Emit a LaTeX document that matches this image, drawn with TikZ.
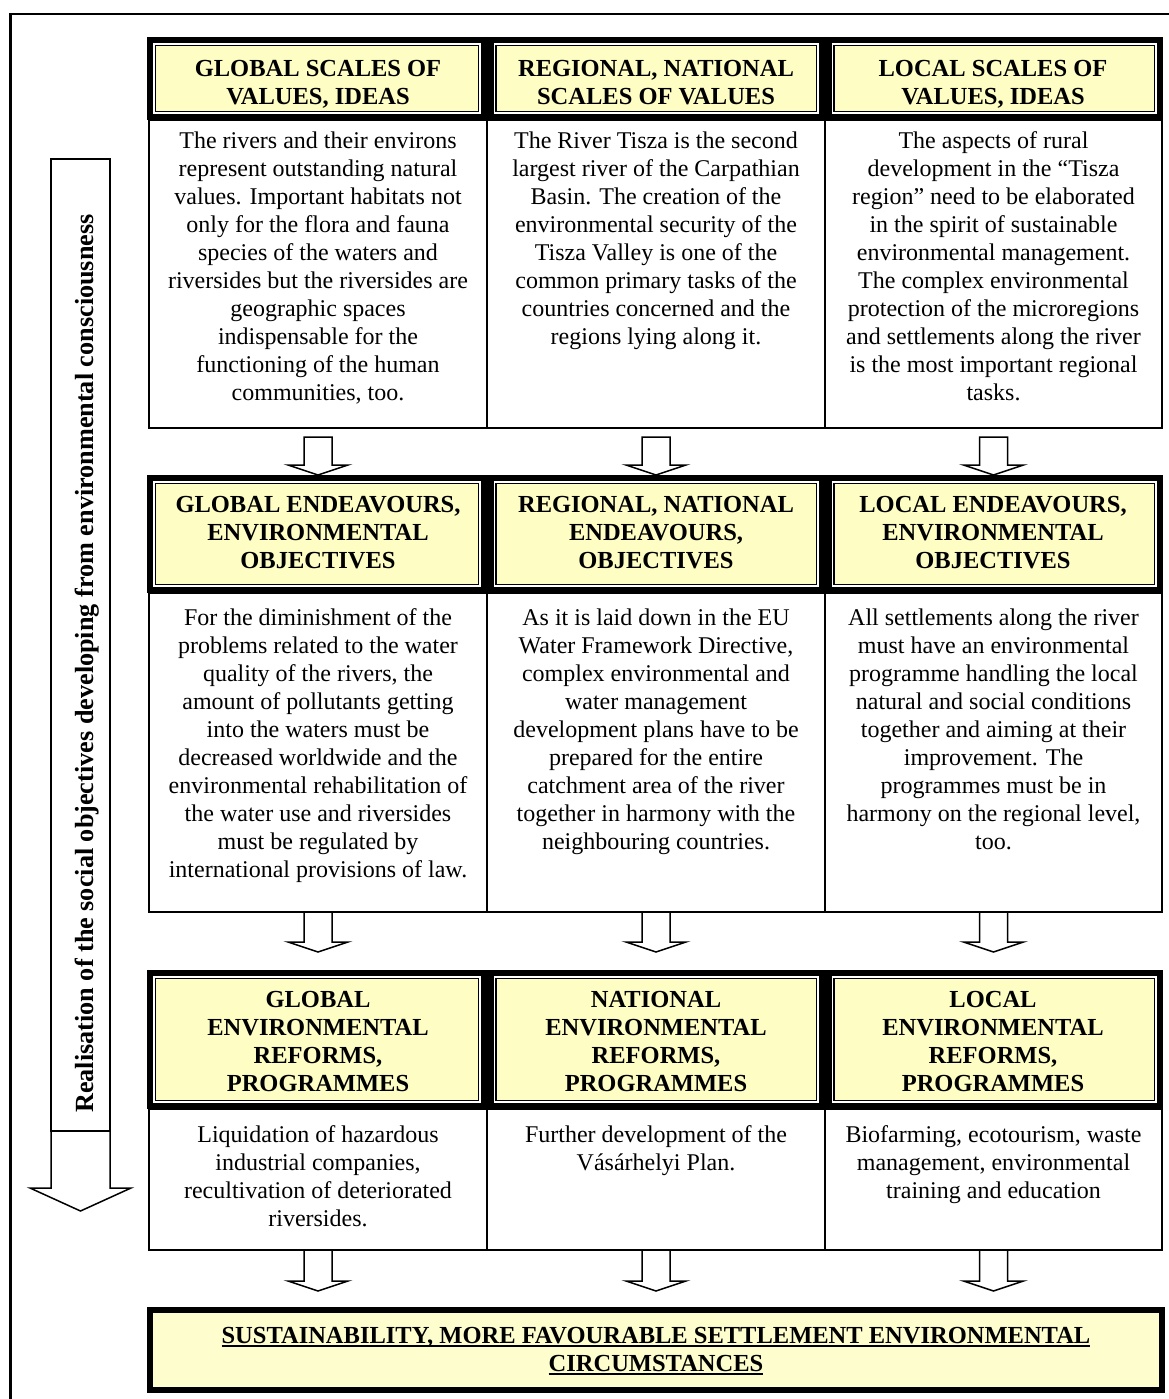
\documentclass[tikz,border=0pt]{standalone}
\usepackage{fontspec}
\setmainfont{Liberation Serif}
\usetikzlibrary{calc}
\definecolor{hdrfill}{RGB}{253,253,196}
\definecolor{botfill}{RGB}{253,253,205}
\newcommand\tst{\rule{0pt}{20pt}}
\newcommand\bst{\rule[-8pt]{0pt}{8pt}}
\newsavebox\ulbox
\newcommand\myul[1]{\sbox\ulbox{#1}\rlap{\rule[-4pt]{\wd\ulbox}{1.8pt}}\usebox\ulbox}
\newcommand\barrow[4]{\path[arrowline] let \p1=(#1.south), \p2=(#2.north) in
  (\x1-14pt,\y1-#3) -- (\x1-14pt,\y2+#4+10pt) -- (\x1-30pt,\y2+#4+10pt) -- (\x1,\y2+#4)
  -- (\x1+30pt,\y2+#4+10pt) -- (\x1+14pt,\y2+#4+10pt) -- (\x1+14pt,\y1-#3) -- cycle;}
\begin{document}
\begin{tikzpicture}[x=1pt,y=-1pt,
  box/.style={draw=black, line width=1.5pt, fill=white, inner sep=0pt, outer sep=0pt},
  hdr/.style={draw=black, line width=6pt, fill=hdrfill, inner sep=0pt, outer sep=0pt,
    path picture={
      \draw[white, line width=1.6pt] ([shift={(3.8pt,-3.8pt)}]path picture bounding box.north west) rectangle ([shift={(-3.8pt,3.8pt)}]path picture bounding box.south east);
      \draw[black, line width=1.2pt] ([shift={(5.4pt,-5.4pt)}]path picture bounding box.north west) rectangle ([shift={(-5.4pt,5.4pt)}]path picture bounding box.south east);
    }},
  botbox/.style={draw=black, line width=6pt, fill=botfill, inner sep=0pt, outer sep=0pt},
  hdrtext/.style={font=\bfseries\fontsize{24.5}{28}\selectfont, align=center, inner sep=0pt, anchor=north},
  bodytext/.style={font=\fontsize{24}{28}\selectfont, align=center, inner sep=0pt, anchor=north},
  arrowline/.style={draw=black, line width=1.5pt, fill=white, line join=miter},
  sep/.style={draw=black, line width=1pt}
]
\useasboundingbox (0,0) rectangle (1168,1399);
\draw[line width=2.5pt] (10.5,1402) -- (10.5,14) -- (1172,14);

% text boxes
\node[box, minimum width=338pt, minimum height=308pt] (b11) at (318,274) {};
\node[box, minimum width=338pt, minimum height=308pt] (b12) at (656,274) {};
\node[box, minimum width=337pt, minimum height=308pt] (b13) at (993.5,274) {};
\node[box, minimum width=338pt, minimum height=319pt] (b21) at (318,752.5) {};
\node[box, minimum width=338pt, minimum height=319pt] (b22) at (656,752.5) {};
\node[box, minimum width=337pt, minimum height=319pt] (b23) at (993.5,752.5) {};
\node[box, minimum width=338pt, minimum height=141pt] (b31) at (318,1179.5) {};
\node[box, minimum width=338pt, minimum height=141pt] (b32) at (656,1179.5) {};
\node[box, minimum width=337pt, minimum height=141pt] (b33) at (993.5,1179.5) {};

% headers
\node[hdr, minimum width=333.5pt, minimum height=77pt] (h11) at (316.75,78.5) {};
\node[hdr, minimum width=331pt, minimum height=77pt] (h12) at (656,78.5) {};
\node[hdr, minimum width=331.5pt, minimum height=77pt] (h13) at (994.25,78.5) {};
\node[hdr, minimum width=333.5pt, minimum height=112pt] (h21) at (316.75,534) {};
\node[hdr, minimum width=331pt, minimum height=112pt] (h22) at (656,534) {};
\node[hdr, minimum width=331.5pt, minimum height=112pt] (h23) at (994.25,534) {};
\node[hdr, minimum width=333.5pt, minimum height=133pt] (h31) at (316.75,1039.5) {};
\node[hdr, minimum width=331pt, minimum height=133pt] (h32) at (656,1039.5) {};
\node[hdr, minimum width=331.5pt, minimum height=133pt] (h33) at (994.25,1039.5) {};
\draw[sep] ([shift={(3.5pt,3pt)}]h11.north east) -- ([shift={(3.5pt,-3pt)}]h11.south east);
\draw[sep] ([shift={(3.5pt,3pt)}]h12.north east) -- ([shift={(3.5pt,-3pt)}]h12.south east);
\draw[sep] ([shift={(3.5pt,3pt)}]h21.north east) -- ([shift={(3.5pt,-3pt)}]h21.south east);
\draw[sep] ([shift={(3.5pt,3pt)}]h22.north east) -- ([shift={(3.5pt,-3pt)}]h22.south east);
\draw[sep] ([shift={(3.5pt,3pt)}]h31.north east) -- ([shift={(3.5pt,-3pt)}]h31.south east);
\draw[sep] ([shift={(3.5pt,3pt)}]h32.north east) -- ([shift={(3.5pt,-3pt)}]h32.south east);

% header texts
\node[hdrtext] (t11) at (318,56) {\tst GLOBAL SCALES OF\\VALUES, IDEAS\bst};
\node[hdrtext] (t12) at (656,56) {\tst REGIONAL, NATIONAL\\SCALES OF VALUES\bst};
\node[hdrtext] (t13) at (993,56) {\tst LOCAL SCALES OF\\VALUES, IDEAS\bst};
\node[hdrtext] (t21) at (318,492) {\tst GLOBAL ENDEAVOURS,\\ENVIRONMENTAL\\OBJECTIVES\bst};
\node[hdrtext] (t22) at (656,492) {\tst REGIONAL, NATIONAL\\ENDEAVOURS,\\OBJECTIVES\bst};
\node[hdrtext] (t23) at (993,492) {\tst LOCAL ENDEAVOURS,\\ENVIRONMENTAL\\OBJECTIVES\bst};
\node[hdrtext] (t31) at (318,987) {\tst GLOBAL\\ENVIRONMENTAL\\REFORMS,\\PROGRAMMES\bst};
\node[hdrtext] (t32) at (656,987) {\tst NATIONAL\\ENVIRONMENTAL\\REFORMS,\\PROGRAMMES\bst};
\node[hdrtext] (t33) at (993,987) {\tst LOCAL\\ENVIRONMENTAL\\REFORMS,\\PROGRAMMES\bst};

% body texts
\node[bodytext] (p11) at (318,128) {\tst The rivers and their environs\\represent outstanding natural\\values. Important habitats not\\only for the flora and fauna\\species of the waters and\\riversides but the riversides are\\geographic spaces\\indispensable for the\\functioning of the human\\communities, too.\bst};
\node[bodytext] (p12) at (656,128) {\tst The River Tisza is the second\\largest river of the Carpathian\\Basin. The creation of the\\environmental security of the\\Tisza Valley is one of the\\common primary tasks of the\\countries concerned and the\\regions lying along it.\bst};
\node[bodytext] (p13) at (993.5,128) {\tst The aspects of rural\\development in the “Tisza\\region” need to be elaborated\\in the spirit of sustainable\\environmental management.\\The complex environmental\\protection of the microregions\\and settlements along the river\\is the most important regional\\tasks.\bst};
\node[bodytext] (p21) at (318,605) {\tst For the diminishment of the\\problems related to the water\\quality of the rivers, the\\amount of pollutants getting\\into the waters must be\\decreased worldwide and the\\environmental rehabilitation of\\the water use and riversides\\must be regulated by\\international provisions of law.\bst};
\node[bodytext] (p22) at (656,605) {\tst As it is laid down in the EU\\Water Framework Directive,\\complex environmental and\\water management\\development plans have to be\\prepared for the entire\\catchment area of the river\\together in harmony with the\\neighbouring countries.\bst};
\node[bodytext] (p23) at (993.5,605) {\tst All settlements along the river\\must have an environmental\\programme handling the local\\natural and social conditions\\together and aiming at their\\improvement. The\\programmes must be in\\harmony on the regional level,\\too.\bst};
\node[bodytext] (p31) at (318,1122) {\tst Liquidation of hazardous\\industrial companies,\\recultivation of deteriorated\\riversides.\bst};
\node[bodytext] (p32) at (656,1122) {\tst Further development of the\\Vásárhelyi Plan.\bst};
\node[bodytext] (p33) at (993.5,1122) {\tst Biofarming, ecotourism, waste\\management, environmental\\training and education\bst};

% bottom box
\node[botbox, minimum width=1012pt, minimum height=80pt] (bot) at (656,1350) {};
\node[hdrtext] (bottext) at (656,1323) {\tst\myul{SUSTAINABILITY, MORE FAVOURABLE SETTLEMENT ENVIRONMENTAL}\\\myul{CIRCUMSTANCES}\bst};

% block arrows
\barrow{b11}{h21}{9pt}{3pt}
\barrow{b12}{h22}{9pt}{3pt}
\barrow{b13}{h23}{9pt}{3pt}
\barrow{b21}{h31}{0pt}{21pt}
\barrow{b22}{h32}{0pt}{21pt}
\barrow{b23}{h33}{0pt}{21pt}
\barrow{b31}{bot}{0pt}{19pt}
\barrow{b32}{bot}{0pt}{19pt}
\barrow{b33}{bot}{0pt}{19pt}

% side arrow
\node[box, minimum width=59pt, minimum height=972pt] (side) at (80.5,645) {};
\path[arrowline] let \p1=(side.south) in (\x1-29.5pt,\y1) -- (\x1-29.5pt,\y1-57pt) -- (\x1-50.5pt,\y1-57pt) -- (\x1,\y1-80pt) -- (\x1+50.5pt,\y1-57pt) -- (\x1+29.5pt,\y1-57pt) -- (\x1+29.5pt,\y1) -- cycle;
\node[hdrtext, font=\bfseries\fontsize{26.2}{30}\selectfont, anchor=center, rotate=90] (sidetext) at (87,663.5) {\tst Realisation of the social objectives developing from environmental consciousness\bst};
\end{tikzpicture}
\end{document}
